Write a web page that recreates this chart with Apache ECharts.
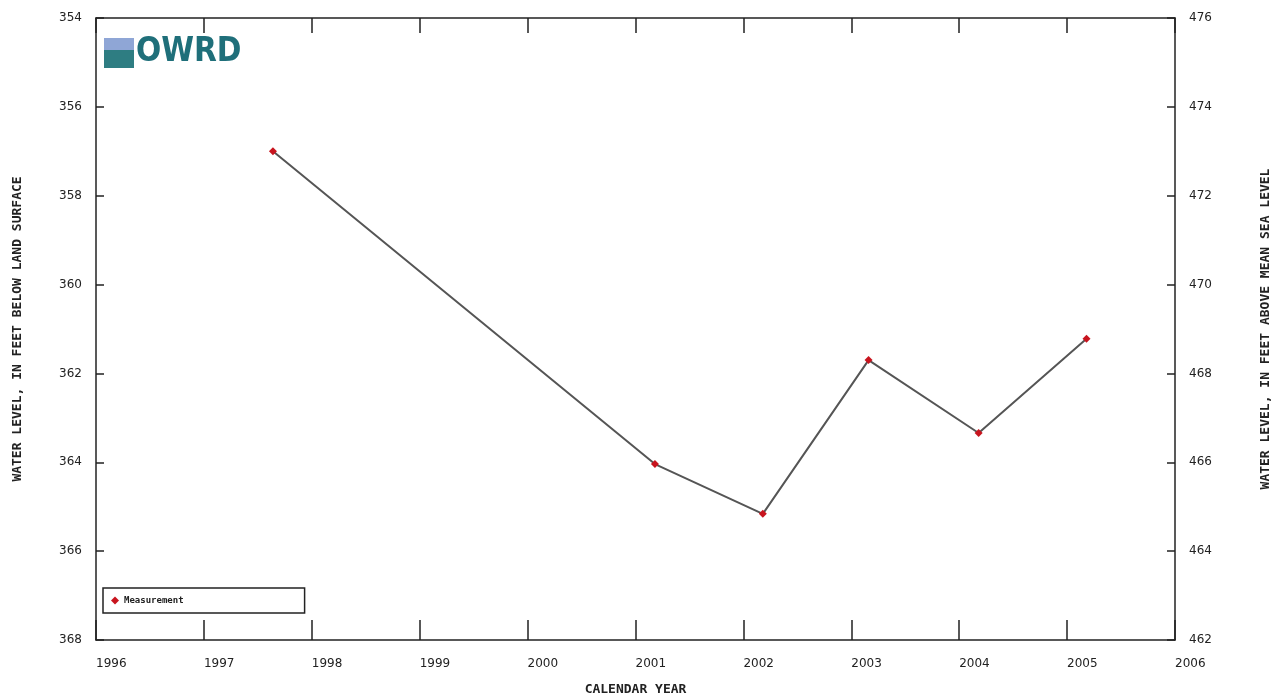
<!DOCTYPE html>
<html>
<head>
<meta charset="utf-8">
<script src="https://cdn.jsdelivr.net/npm/echarts@6/dist/echarts.min.js"></script>
<style>
  html, body { margin: 0; padding: 0; background: #fff; }
  #main { width: 1275px; height: 695px; }
</style>
</head>
<body>
<div id="main"></div>
<script>
// measurement dates (decimal year) and depth to water, ft below land surface
var years = [1997.64, 2001.18, 2002.18, 2003.16, 2004.18, 2005.18];
var depths = [357.0, 364.04, 365.16, 361.70, 363.34, 361.22];
var landSurface = 830; // elevation = landSurface - depth

var pts = years.map(function (y, i) { return [y, depths[i]]; });

var tickFont = { fontFamily: "DejaVu Sans", fontSize: 12, color: "#222" };
var titleFont = { fontFamily: "DejaVu Sans Mono", fontWeight: "bold", fontSize: 13, color: "#222" };
var plain = function (v) { return String(v); };

var chart = echarts.init(document.getElementById("main"));
chart.setOption({
  animation: false,
  grid: { left: 96, right: 100, top: 18, bottom: 55, outerBoundsMode: "none", containLabel: false },
  legend: {
    left: 103, top: 588,
    data: ["Measurement"],
    icon: "diamond",
    itemWidth: 8, itemHeight: 8,
    borderColor: "#222", borderWidth: 1.5, borderRadius: 0,
    padding: [8, 121, 8, 8],
    textStyle: { fontFamily: "DejaVu Sans Mono", fontWeight: "bold", fontSize: 9, color: "#222" }
  },
  xAxis: [
    {
      type: "value", min: 1996, max: 2006, interval: 1,
      name: "CALENDAR YEAR", nameLocation: "middle", nameGap: 43,
      nameTextStyle: titleFont,
      axisLine: { lineStyle: { color: "#222", width: 1.5 } },
      axisTick: { inside: true, length: 20, lineStyle: { color: "#222", width: 1.5 } },
      axisLabel: Object.assign({ margin: 18, formatter: plain, align: "left" }, tickFont),
      splitLine: { show: false }
    },
    {
      type: "value", position: "top", min: 1996, max: 2006, interval: 1,
      axisLine: { lineStyle: { color: "#222", width: 1.5 } },
      axisTick: { inside: true, length: 15, lineStyle: { color: "#222", width: 1.5 } },
      axisLabel: { show: false },
      splitLine: { show: false }
    }
  ],
  yAxis: [
    {
      type: "value", inverse: true, min: 354, max: 368, interval: 2,
      name: "WATER LEVEL, IN FEET BELOW LAND SURFACE", nameLocation: "middle", nameGap: 72,
      nameTextStyle: titleFont,
      axisLine: { show: true, lineStyle: { color: "#222", width: 1.5 } },
      axisTick: { show: true, inside: true, length: 8, lineStyle: { color: "#222", width: 1.5 } },
      axisLabel: Object.assign({ margin: 14, formatter: plain }, tickFont),
      splitLine: { show: false }
    },
    {
      type: "value", position: "right",
      min: landSurface - 368, max: landSurface - 354, interval: 2,
      name: "WATER LEVEL, IN FEET ABOVE MEAN SEA LEVEL", nameLocation: "middle", nameGap: 84,
      nameRotate: 90,
      nameTextStyle: titleFont,
      axisLine: { show: true, lineStyle: { color: "#222", width: 1.5 } },
      axisTick: { show: true, inside: true, length: 8, lineStyle: { color: "#222", width: 1.5 } },
      axisLabel: Object.assign({ margin: 14, formatter: plain }, tickFont),
      splitLine: { show: false }
    }
  ],
  series: [
    {
      name: "Measurement",
      type: "line",
      data: pts,
      symbol: "diamond",
      symbolSize: 8,
      itemStyle: { color: "#c8141e" },
      lineStyle: { color: "#555", width: 2 }
    }
  ],
  graphic: [
    {
      type: "rect", left: 104, top: 38, shape: { width: 30, height: 30 },
      style: { fill: "#2e7d82" }
    },
    {
      type: "rect", left: 104, top: 38, shape: { width: 30, height: 12 },
      style: { fill: "#8fa6d6" }
    },
    {
      type: "text", left: 136, top: 36,
      style: { text: "OWRD", font: "bold 33px 'DejaVu Sans Condensed', sans-serif", fill: "#1f6f7a" }
    }
  ]
});
</script>
</body>
</html>
